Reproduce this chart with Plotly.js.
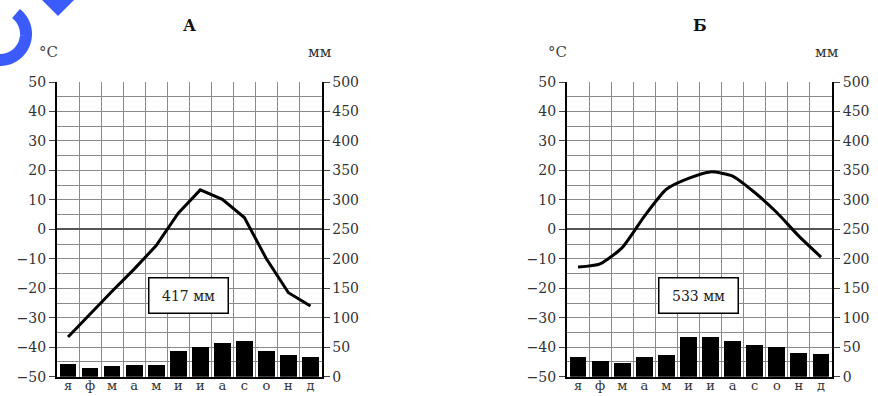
<!DOCTYPE html>
<html>
<head>
<meta charset="utf-8">
<script src="https://cdn.plot.ly/plotly-3.0.1.min.js"></script>
<style>html,body{margin:0;padding:0;background:#fff;}#chart{width:878px;height:396px;}</style>
</head>
<body>
<div id="chart"></div>
<script>
// ---- data ----
const months = ["я","ф","м","а","м","и","и","а","с","о","н","д"];
const tempA = [-36.5, -28.7, -21, -13.5, -5.5, 5.5, 13.4, 10.2, 4, -10, -21.5, -26];
const precA = [21, 15, 19, 20, 20, 43, 50, 58, 60, 43, 36, 33];
const tempB = [-12.8, -11.7, -6.2, 4.4, 13.6, 17.3, 19.5, 18.1, 12.5, 5.7, -2.3, -9.4];
const precB = [34, 27, 23, 34, 37, 67, 67, 60, 54, 51, 41, 38];
const totalA = "417 мм";
const totalB = "533 мм";
const titleA = "А";
const titleB = "Б";
const tempUnit = "°C";
const precUnit = "мм";

const W = 878, H = 396;
const idx = months.map((_, i) => i);
const serif = "DejaVu Serif, Liberation Serif, serif";
const tickFont = {family: serif, size: 14, color: "#333"};

const yDom = [(H - 376.7) / H, (H - 82) / H];
const domA = [57 / W, 321.5 / W];
const domB = [567 / W, 832 / W];

function xAxis(dom) {
  return {
    domain: dom, range: [-0.5, 11.5], tickmode: "array", tickvals: idx, ticktext: months,
    showgrid: false, ticks: "", tickfont: {family: serif, size: 13, color: "#333"}, ticklabelstandoff: -4,
    showline: true, linecolor: "#000", linewidth: 2, zeroline: false, fixedrange: true,
    minor: {tickmode: "linear", tick0: -0.5, dtick: 1, showgrid: true, gridcolor: "#8a8a8a", gridwidth: 1, ticks: ""},
    automargin: false
  };
}
function yTemp(anchor) {
  return {
    domain: yDom, range: [-50, 50], tickmode: "linear", tick0: -50, dtick: 10,
    showgrid: true, gridcolor: "#8a8a8a", gridwidth: 1,
    minor: {tickmode: "linear", tick0: -50, dtick: 5, showgrid: true, gridcolor: "#8a8a8a", gridwidth: 1, ticks: ""},
    zeroline: true, zerolinecolor: "#555", zerolinewidth: 2,
    showline: true, linecolor: "#000", linewidth: 2, ticks: "outside", ticklen: 6, tickcolor: "#444", tickwidth: 1,
    tickfont: tickFont, anchor: anchor, automargin: false, fixedrange: true
  };
}
function yPrec(overlay, anchor) {
  return {
    domain: yDom, range: [0, 500], tickmode: "linear", tick0: 0, dtick: 50, overlaying: overlay, side: "right",
    anchor: anchor, showgrid: false, zeroline: false,
    showline: true, linecolor: "#000", linewidth: 2, ticks: "outside", ticklen: 6, tickcolor: "#444", tickwidth: 1,
    tickfont: tickFont, automargin: false, fixedrange: true
  };
}

const traces = [
  {type: "bar", x: idx, y: precA, xaxis: "x", yaxis: "y2", marker: {color: "#000", line: {width: 0}}, width: 0.76, hoverinfo: "skip"},
  {type: "scatter", mode: "lines", x: idx, y: tempA, xaxis: "x", yaxis: "y", line: {color: "#000", width: 3}, hoverinfo: "skip"},
  {type: "bar", x: idx, y: precB, xaxis: "x2", yaxis: "y4", marker: {color: "#000", line: {width: 0}}, width: 0.76, hoverinfo: "skip"},
  {type: "scatter", mode: "lines", x: idx, y: tempB, xaxis: "x2", yaxis: "y3", line: {color: "#000", width: 3, shape: "spline", smoothing: 0.6}, hoverinfo: "skip"}
];

// blue decorative logo (paper coords)
const px = v => v / W, py = v => 1 - v / H;
let arc = "";
for (let a = -52; a <= 110; a += 4) {
  const r = a * Math.PI / 180;
  const xx = 0 + 26 * Math.cos(r), yy = 34 + 26 * Math.sin(r);
  arc += (arc ? " L " : "M ") + px(xx).toFixed(5) + " " + py(yy).toFixed(5);
}
const shapes = [
  {type: "path", xref: "paper", yref: "paper", path: arc, line: {color: "#3b5bfd", width: 12}, layer: "above"},
  {type: "path", xref: "paper", yref: "paper",
   path: `M ${px(38)} ${py(-4)} L ${px(78)} ${py(-4)} L ${px(58)} ${py(16)} Z`,
   fillcolor: "#3b5bfd", line: {width: 0}, layer: "above"}
];

function ann(text, x, y, size, bold, color) {
  return {text: bold ? "<b>" + text + "</b>" : text, xref: "paper", yref: "paper", x: px(x), y: py(y),
    xanchor: "center", yanchor: "middle", showarrow: false, font: {family: serif, size: size, color: color || "#222"}};
}
const annotations = [
  ann(titleA, 189, 25, 16, true, "#111"),
  ann(titleB, 700, 25, 16, true, "#111"),
  ann(tempUnit, 48, 52, 15, false, "#444"),
  ann(precUnit, 320, 52, 15, false, "#333"),
  ann(tempUnit, 557, 52, 15, false, "#444"),
  ann(precUnit, 827, 52, 15, false, "#333"),
  {text: totalA, xref: "x", yref: "y", x: 5.48, y: -22.6, showarrow: false, bgcolor: "#fff",
   bordercolor: "#000", borderwidth: 1.5, width: 76, height: 32, font: {family: serif, size: 14, color: "#222"}},
  {text: totalB, xref: "x2", yref: "y3", x: 5.47, y: -22.6, showarrow: false, bgcolor: "#fff",
   bordercolor: "#000", borderwidth: 1.5, width: 76, height: 32, font: {family: serif, size: 14, color: "#222"}}
];

const layout = {
  width: W, height: H, margin: {l: 0, r: 0, t: 0, b: 0},
  paper_bgcolor: "#fff", plot_bgcolor: "rgba(0,0,0,0)", showlegend: false, bargap: 0,
  xaxis: Object.assign(xAxis(domA), {anchor: "y"}),
  yaxis: yTemp("x"),
  yaxis2: yPrec("y", "x"),
  xaxis2: Object.assign(xAxis(domB), {anchor: "y3"}),
  yaxis3: yTemp("x2"),
  yaxis4: yPrec("y3", "x2"),
  shapes: shapes, annotations: annotations
};

Plotly.newPlot("chart", traces, layout, {staticPlot: true, displayModeBar: false});
</script>
</body>
</html>
